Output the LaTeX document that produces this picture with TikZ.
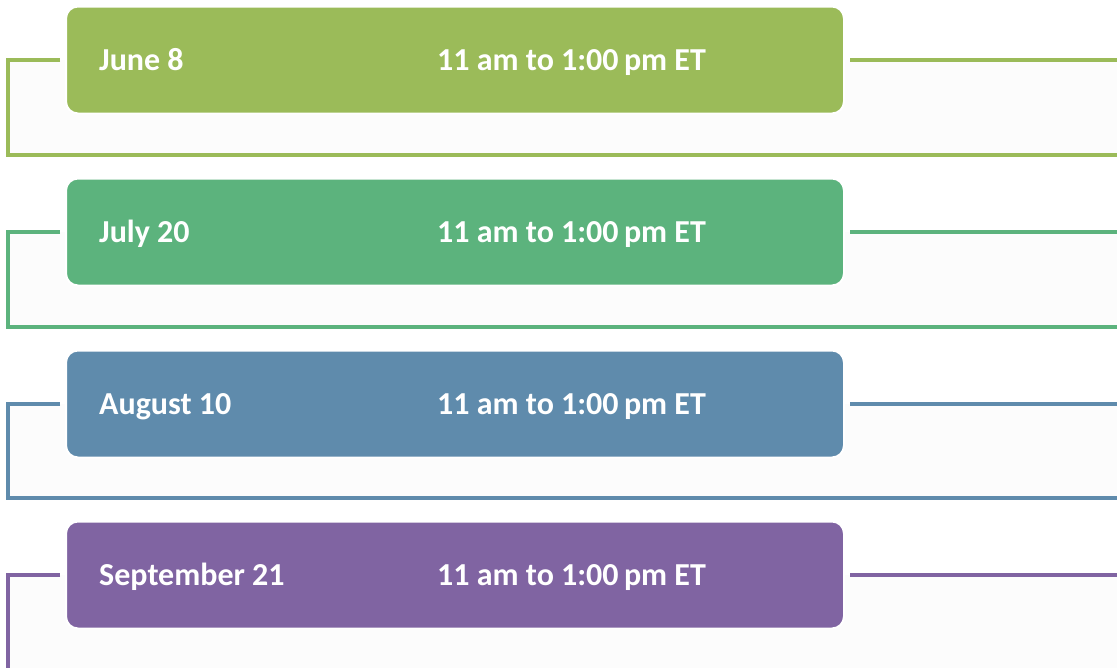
\documentclass[tikz,border=0pt]{standalone}
\usepackage{fontspec}
\setmainfont{Carlito}
\definecolor{cA}{HTML}{9BBB59}
\definecolor{cB}{HTML}{5CB37D}
\definecolor{cC}{HTML}{5F8BAC}
\definecolor{cD}{HTML}{8064A2}
\definecolor{panel}{HTML}{FCFCFC}
\tikzset{
  datebox/.style={draw=white, line width=2pt, rounded corners=12pt, minimum width=778pt, minimum height=107pt, inner sep=0pt},
  lbl/.style={text=white, font=\fontsize{32}{38}\selectfont\bfseries, anchor=base west, inner sep=0pt},
  bracket/.style={line width=3.6pt},
}
\begin{document}
\begin{tikzpicture}[x=1pt,y=-1pt]
\useasboundingbox (0,0) rectangle (1117,667);
\foreach \c/\ly/\by/\d [count=\i] in {cA/60/155/June 8, cB/232/327/July 20, cC/404/498/August 10, cD/575/700/September 21}{
  \fill[panel] (8,\ly) rectangle (1117,\by);
  \node[datebox, fill=\c] (b\i) at (455,\ly) {};
  \node[lbl] (d\i) at (99,\ly+10) {\d};
  \node[lbl] (t\i) at (437,\ly+10) {11 am to 1:00\,pm ET};
  \coordinate (l\i) at (8,\ly);
  \coordinate (lb\i) at (8,\by);
  \coordinate (rb\i) at (1117,\by);
  \coordinate (r\i) at (1117,\ly);
  \draw[bracket, draw=\c] ([xshift=-5pt]b\i.west) -- (l\i) -- (lb\i) -- (rb\i);
  \draw[bracket, draw=\c] ([xshift=5pt]b\i.east) -- (r\i);
}
\end{tikzpicture}
\end{document}
